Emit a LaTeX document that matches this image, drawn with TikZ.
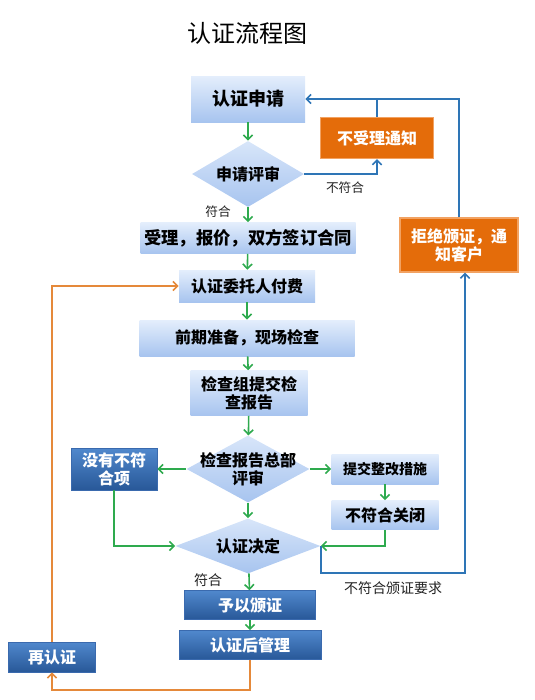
\documentclass[tikz,border=0pt]{standalone}
\usepackage{fontspec}
\setmainfont{Noto Sans CJK SC}
\usetikzlibrary{shapes.geometric,arrows.meta}
\definecolor{lighttop}{HTML}{E4EEFC}
\definecolor{lightbot}{HTML}{A7C4EF}
\definecolor{darktop}{HTML}{5088CD}
\definecolor{darkbot}{HTML}{285898}
\definecolor{darkline}{HTML}{3A6AAE}
\definecolor{warnfill}{HTML}{E46C0A}
\definecolor{warnline}{HTML}{F2A262}
\definecolor{gocol}{HTML}{2EAA4E}
\definecolor{backcol}{HTML}{2E75B6}
\definecolor{againcol}{HTML}{E5893A}
\definecolor{labcol}{HTML}{222222}
\begin{document}
\begin{tikzpicture}[x=0.75pt,y=-0.75pt,
  boxfont/.style={font=\bfseries\fontsize{12pt}{13.5pt}\selectfont},
  light/.style={rectangle,boxfont,align=center,inner sep=0pt,top color=lighttop,bottom color=lightbot,text=black},
  dark/.style={rectangle,boxfont,align=center,inner sep=0pt,top color=darktop,bottom color=darkbot,draw=darkline,text=white},
  warn/.style={rectangle,boxfont,align=center,inner sep=0pt,fill=warnfill,draw=warnline,line width=0.8pt,text=white},
  dec/.style={diamond,inner sep=0pt,top color=lighttop!80!lightbot,bottom color=lightbot},
  lab/.style={font=\fontsize{9.5pt}{11pt}\selectfont,text=labcol},
  go/.style={draw=gocol,line width=1.2pt,-{Straight Barb[length=3.5pt,width=7pt]}},
  back/.style={draw=backcol,line width=1.2pt,-{Straight Barb[length=3.5pt,width=7pt]}},
  again/.style={draw=againcol,line width=1.2pt,-{Straight Barb[length=3.5pt,width=7pt]}}]
\useasboundingbox (0,0) rectangle (535,700);
\node [font=\fontsize{18pt}{20pt}\selectfont] (title) at (247,33) {认证流程图};
\node [light,minimum width=85.5pt,minimum height=34.5pt,font=\bfseries\fontsize{13.5pt}{15pt}\selectfont] (apply) at (248,99) {认证申请};
\node [dec,minimum width=84pt,minimum height=49.5pt,label={[boxfont]center:申请评审}] (rev1) at (248,174) {};
\node [warn,minimum width=84.75pt,minimum height=30.75pt] (refuse) at (377,138) {不受理通知};
\node [light,minimum width=161.25pt,minimum height=23.25pt,font=\bfseries\fontsize{13pt}{15pt}\selectfont] (contract) at (248,238) {受理，报价，双方签订合同};
\node [warn,minimum width=88.5pt,minimum height=40.5pt] (deny) at (459,245) {拒绝颁证，通\\知客户};
\node [light,minimum width=102pt,minimum height=24pt] (pay) at (247,286) {认证委托人付费};
\node [light,minimum width=161.25pt,minimum height=27pt] (prep) at (247,338) {前期准备，现场检查};
\node [light,minimum width=87.75pt,minimum height=33.75pt] (report) at (249,393) {检查组提交检\\查报告};
\node [dec,minimum width=92.25pt,minimum height=50.25pt,label={[boxfont,align=center]center:检查报告总部\\评审}] (rev2) at (248,469) {};
\node [dark,minimum width=64.5pt,minimum height=31.5pt] (nofault) at (114,469) {没有不符\\合项};
\node [light,minimum width=80.25pt,minimum height=22.5pt,font=\bfseries\fontsize{10.5pt}{12pt}\selectfont] (fix) at (385,469) {提交整改措施};
\node [light,minimum width=80.25pt,minimum height=21.75pt] (close) at (385,515) {不符合关闭};
\node [dec,minimum width=108.75pt,minimum height=41.25pt,label={[boxfont]center:认证决定}] (decide) at (248,546) {};
\node [dark,minimum width=98.25pt,minimum height=21.75pt] (grant) at (250,605) {予以颁证};
\node [dark,minimum width=106.5pt,minimum height=21.75pt] (manage) at (250,645) {认证后管理};
\node [dark,minimum width=65.25pt,minimum height=22.5pt] (renew) at (52,657) {再认证};
\coordinate (low) at (465,573);
\coordinate (bottom) at (52,690);
\draw [go] (apply) -- (rev1);
\draw [go] (rev1) -- (contract);
\draw [go] (contract) -- (pay);
\draw [go] (pay) -- (prep);
\draw [go] (prep) -- (report);
\draw [go] (report) -- (rev2);
\draw [go] (rev2) -- (nofault);
\draw [go] (rev2) -- (fix);
\draw [go] (fix) -- (close);
\draw [go] (rev2) -- (decide);
\draw [go] (nofault.south) |- (decide.west);
\draw [go] (close.south) |- (decide.east);
\draw [go] (decide) -- (grant);
\draw [go] (grant) -- (manage);
\draw [back] (rev1.east) -| (refuse.south);
\draw [backcol,line width=1.2pt] (refuse.north) -- (refuse.north |- apply.east);
\draw [back] (deny.north) |- (apply.east);
\draw [back] (decide.east) |- (low) -- (low |- deny.south);
\draw [again] (renew.north) |- (pay.west);
\draw [again] (manage.south) |- (bottom) -- (renew.south);
\node [lab] (nomatch) at (345,188) {不符合};
\node [lab] (match1) at (218,212) {符合};
\node [lab,font=\fontsize{10.5pt}{12pt}\selectfont] (nogrant) at (393,588) {不符合颁证要求};
\node [lab,font=\fontsize{10.5pt}{12pt}\selectfont] (match2) at (208,580) {符合};
\end{tikzpicture}
\end{document}
